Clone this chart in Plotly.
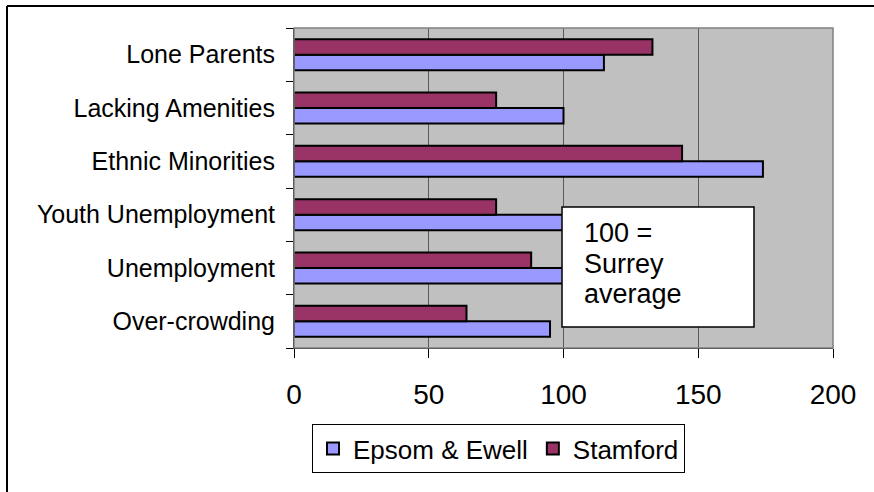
import plotly.graph_objects as go

# Deprivation indicators (index, Surrey average = 100)
categories = ["Over-crowding", "Unemployment", "Youth Unemployment",
              "Ethnic Minorities", "Lacking Amenities", "Lone Parents"]
epsom_ewell = [95, 100, 100, 174, 100, 115]
stamford = [64, 88, 75, 144, 75, 133]
x_ticks = [0, 50, 100, 150, 200]

FONT = "Liberation Sans, Arial, sans-serif"

fig = go.Figure()
fig.add_trace(go.Bar(
    y=categories, x=epsom_ewell, name="Epsom & Ewell", orientation="h",
    marker=dict(color="#9999FF", line=dict(color="black", width=2)),
))
fig.add_trace(go.Bar(
    y=categories, x=stamford, name="Stamford", orientation="h",
    marker=dict(color="#993366", line=dict(color="black", width=2)),
))

W, H = 874, 492
L, R, T, B = 294, 41, 28, 144
pw, ph = W - L - R, H - T - B


def px(xp):
    return (xp - L) / pw


def py(yp):
    return (H - B - yp) / ph


fig.update_layout(
    width=W, height=H,
    margin=dict(l=L, r=R, t=T, b=B, pad=0),
    paper_bgcolor="white",
    plot_bgcolor="#C0C0C0",
    barmode="group",
    bargap=0.42,
    bargroupgap=0,
    font=dict(family=FONT, color="black"),
    showlegend=True,
    legend=dict(
        orientation="h",
        x=px(312), y=py(424), xanchor="left", yanchor="top",
        bgcolor="white", bordercolor="black", borderwidth=1,
        font=dict(size=26, family=FONT),
        traceorder="normal",
        itemwidth=30,
    ),
    xaxis=dict(
        range=[0, 200], tickvals=x_ticks, ticktext=[str(v) for v in x_ticks],
        showgrid=True, gridcolor="#5a5a5a", gridwidth=1,
        zeroline=False,
        showline=True, linecolor="black", linewidth=1,
        ticks="outside", ticklen=9, tickcolor="black", tickwidth=1,
        tickfont=dict(size=28, family=FONT),
        ticklabelstandoff=12,
        fixedrange=True,
    ),
    yaxis=dict(
        type="category",
        showgrid=False, zeroline=False,
        showline=True, linecolor="black", linewidth=1,
        ticks="outside", ticklen=7, tickcolor="black", tickwidth=1,
        tickson="boundaries",
        tickfont=dict(size=25, family=FONT),
        ticklabelstandoff=13,
        fixedrange=True,
    ),
)

# Plot-area frame and the chart's outer frame (left and top edges)
fig.add_shape(type="rect", xref="paper", yref="paper", x0=0, x1=1, y0=0, y1=1,
              line=dict(color="#808080", width=1.5), layer="above")
fig.add_shape(type="line", xref="paper", yref="paper",
              x0=px(7), x1=px(7), y0=py(6), y1=py(500),
              line=dict(color="black", width=2))
fig.add_shape(type="line", xref="paper", yref="paper",
              x0=px(7), x1=px(880), y0=py(6), y1=py(6),
              line=dict(color="black", width=2))

# Note box: 100 = Surrey average
fig.add_shape(type="rect", xref="paper", yref="paper",
              x0=px(562), x1=px(754), y0=py(327), y1=py(207),
              fillcolor="white", line=dict(color="black", width=1.5),
              layer="above")
for txt, yc in [("100 =", 233), ("Surrey", 263.5), ("average", 293.5)]:
    fig.add_annotation(text=txt, xref="paper", yref="paper",
                       x=px(582), y=py(yc), xanchor="left", yanchor="middle",
                       showarrow=False, font=dict(size=27, family=FONT))

fig.write_html("out.html")
